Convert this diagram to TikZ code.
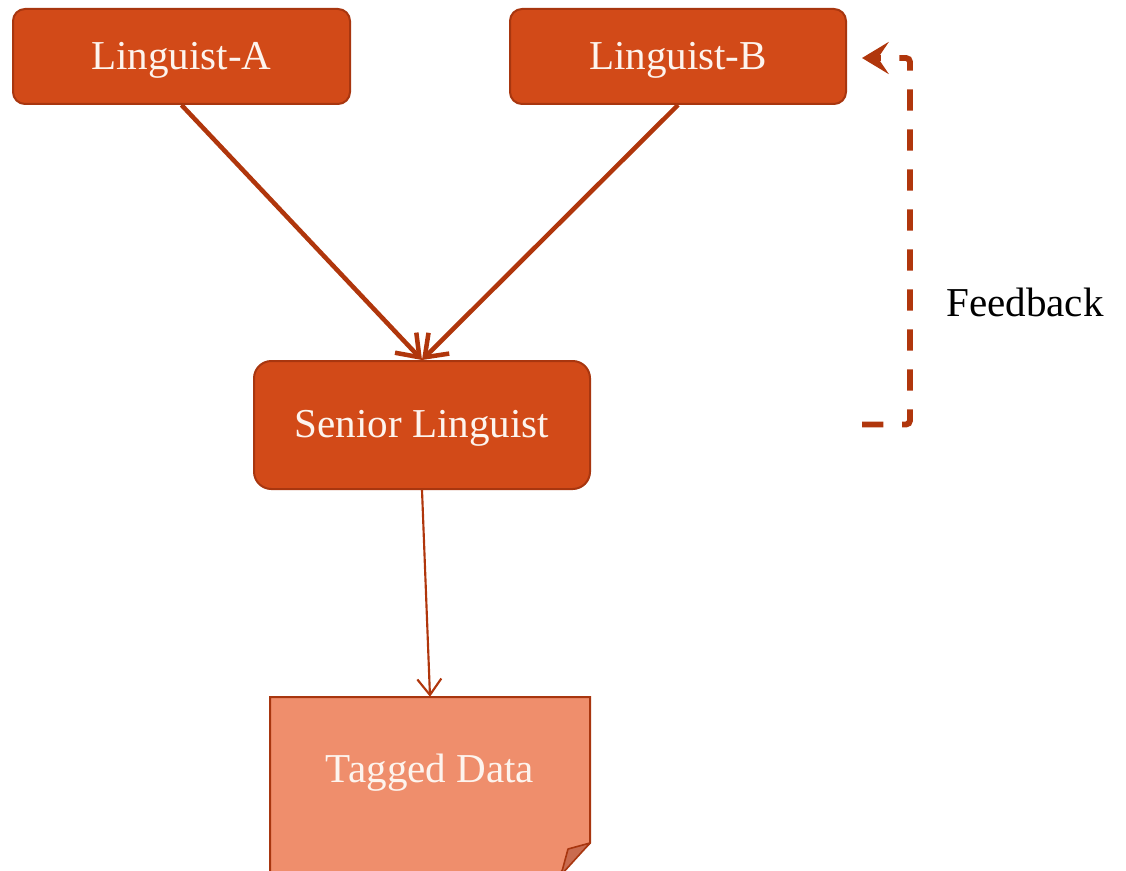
\documentclass[tikz,border=0pt]{standalone}
\usepackage{fontspec}
\setmainfont{Liberation Serif}
\usetikzlibrary{arrows.meta}
\definecolor{boxfill}{HTML}{D24A18}
\definecolor{boxline}{HTML}{A8360F}
\definecolor{linkcol}{HTML}{B0360C}
\definecolor{notefill}{HTML}{EF8E6C}
\definecolor{foldfill}{HTML}{C96B4F}
\definecolor{lighttext}{HTML}{FDF4EE}
\tikzset{
  bigfont/.style={font=\fontsize{30.8pt}{36pt}\selectfont},
  rolebox/.style={bigfont, draw=boxline, line width=1.5pt, fill=boxfill,
    text=lighttext, rounded corners=9pt, inner sep=0pt,
    text height=19pt, text depth=0pt},
  notelabel/.style={bigfont, text=lighttext, inner sep=0pt,
    text height=19pt, text depth=0pt},
  handoff/.style={draw=linkcol, line width=3.4pt,
    -{Straight Barb[length=15pt,width=22pt,line width=3.4pt]}},
  result/.style={draw=linkcol, line width=1.6pt,
    -{Straight Barb[length=12pt,width=18pt,line width=1.6pt]}},
  loopback/.style={draw=linkcol, line width=4.4pt, dash pattern=on 16pt off 14pt,
    rounded corners=3pt, -{Stealth[length=20pt,width=24pt,inset=8pt]}},
}
\begin{document}
\begin{tikzpicture}[x=0.75pt,y=-0.75pt]
\useasboundingbox (0,0) rectangle (1126,870);
\clip (0,0) rectangle (1126,870);

% annotators and reviewer
\node[rolebox, minimum width=252.75pt, minimum height=71.25pt] (la) at (181.5,56.5) {Linguist-A};
\node[rolebox, minimum width=252pt, minimum height=71.25pt] (lb) at (678,56.5) {Linguist-B};
\node[rolebox, rounded corners=13pt, minimum width=252pt, minimum height=96pt] (senior) at (422,425) {Senior Linguist};

% output document with folded corner
\fill[notefill] (270,697) -- (590,697) -- (590,843) -- (550,883) -- (270,883) -- cycle;
\draw[boxline, line width=1.5pt] (270,883) -- (270,697) -- (590,697) -- (590,843) -- (550,883);
\filldraw[fill=foldfill, draw=boxline, line width=1.2pt, line join=round] (590,843) -- (568,849) -- (561,875) -- cycle;
\node[notelabel, minimum width=240pt, minimum height=109.5pt] (tagged) at (430,770) {Tagged Data};

% flow
\draw[handoff] (la.south) -- (senior.north);
\draw[handoff] (lb.south) -- (senior.north);
\draw[result] (senior.south) -- (tagged.north);

% review loop back to the second annotator
\coordinate (fbstart) at (862,424.5);
\coordinate (fbend) at (862,58);
\draw[loopback] (fbstart) -- (910,424.5) -- (910,58) -- (fbend);
\node[bigfont, anchor=west, inner sep=0pt] (feedback) at (946,302) {Feedback};
\end{tikzpicture}
\end{document}
